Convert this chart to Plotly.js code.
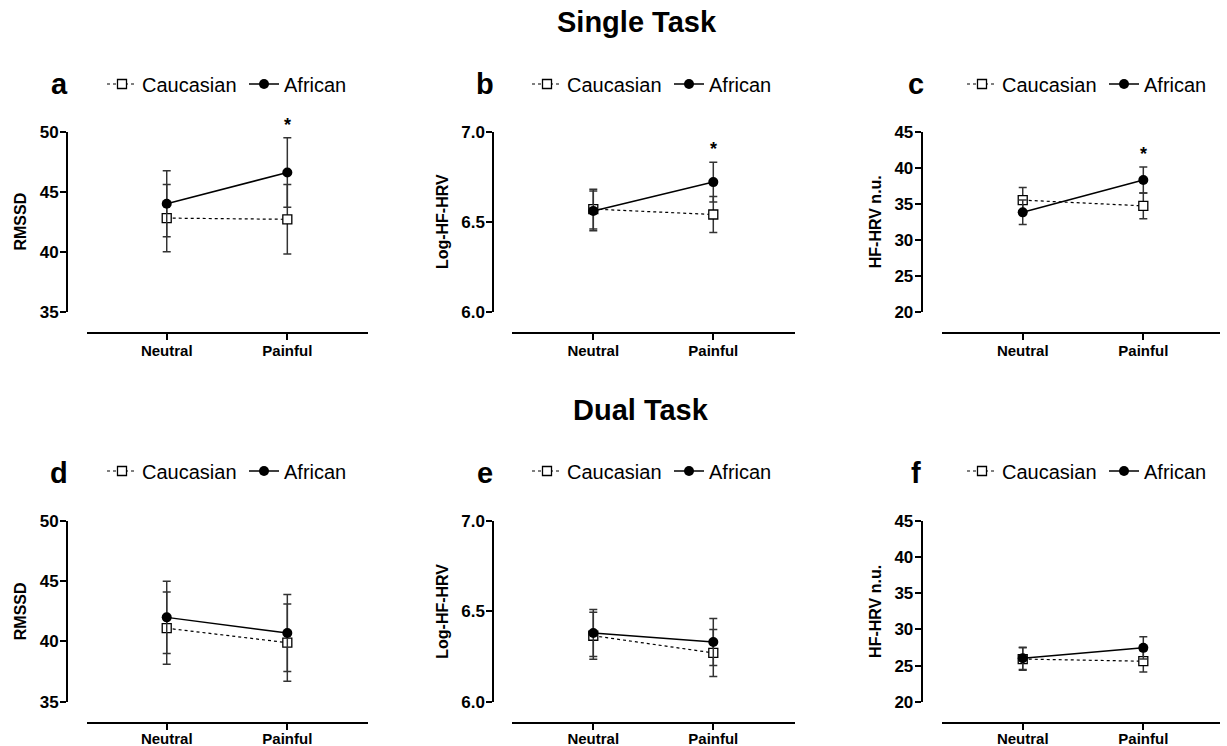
<!DOCTYPE html>
<html>
<head>
<meta charset="utf-8">
<script src="https://cdn.plot.ly/plotly-3.0.1.min.js"></script>
<style>
  html, body { margin: 0; padding: 0; background: #fff; overflow: hidden; }
  #chart { width: 1227px; height: 746px; }
</style>
</head>
<body>
<div id="chart"></div>
<script>
// ---------- data ----------
const categories = ['Neutral', 'Painful'];
const groupNames = ['Caucasian', 'African'];
const panelLetters = ['a', 'b', 'c', 'd', 'e', 'f'];
const rowTitles = ['Single Task', 'Dual Task'];
const yTitles = ['RMSSD', 'Log-HF-HRV', 'HF-HRV n.u.'];

// Single task
const rmssdSingleCauc = [42.8, 42.7];
const rmssdSingleCaucErr = [2.8, 2.9];
const rmssdSingleAfr = [44.0, 46.6];
const rmssdSingleAfrErr = [2.75, 2.9];

const logHfSingleCauc = [6.57, 6.54];
const logHfSingleCaucErr = [0.11, 0.10];
const logHfSingleAfr = [6.56, 6.72];
const logHfSingleAfrErr = [0.11, 0.11];

const nuSingleCauc = [35.5, 34.7];
const nuSingleCaucErr = [1.75, 1.8];
const nuSingleAfr = [33.8, 38.3];
const nuSingleAfrErr = [1.7, 1.8];

// Dual task
const rmssdDualCauc = [41.1, 39.9];
const rmssdDualCaucErr = [3.0, 3.2];
const rmssdDualAfr = [42.0, 40.7];
const rmssdDualAfrErr = [3.0, 3.2];

const logHfDualCauc = [6.365, 6.27];
const logHfDualCaucErr = [0.13, 0.13];
const logHfDualAfr = [6.38, 6.33];
const logHfDualAfrErr = [0.13, 0.13];

const nuDualCauc = [25.9, 25.6];
const nuDualCaucErr = [1.55, 1.5];
const nuDualAfr = [26.0, 27.45];
const nuDualAfrErr = [1.55, 1.55];

// significance marks (star above African, Painful)
const significantPainful = [true, true, true, false, false, false];

// y axis scales per column
const yRanges = [[35, 50], [6.0, 7.0], [20, 45]];
const yTickVals = [[35, 40, 45, 50], [6.0, 6.5, 7.0], [20, 25, 30, 35, 40, 45]];
const yTickFormat = ['d', '.1f', 'd'];

// ---------- layout geometry (pixels) ----------
const W = 1227, H = 746;
const px = v => v / W;
const py = v => (H - v) / H;

const colGeom = [
  { yAxisX: 67,    xStart: 87,    xEnd: 368,  xRange: [-0.661, 1.669], letterX: 59,  legendX: 102 },
  { yAxisX: 493.3, xStart: 511.7, xEnd: 795,  xRange: [-0.68, 1.681],  letterX: 485, legendX: 527 },
  { yAxisX: 921.7, xStart: 941.7, xEnd: 1220, xRange: [-0.672, 1.636], letterX: 916, legendX: 962 }
];
const rowGeom = [
  { yTop: 131.7, yBot: 311.7, xAxisY: 332.7, letterY: 84,  legendY: 84,  titleY: 22,  xLabelShift: -2 },
  { yTop: 521,   yBot: 701.7, xAxisY: 722.7, letterY: 473, legendY: 471, titleY: 410, xLabelShift: -4 }
];

const panelData = [
  [rmssdSingleCauc, rmssdSingleCaucErr, rmssdSingleAfr, rmssdSingleAfrErr],
  [logHfSingleCauc, logHfSingleCaucErr, logHfSingleAfr, logHfSingleAfrErr],
  [nuSingleCauc, nuSingleCaucErr, nuSingleAfr, nuSingleAfrErr],
  [rmssdDualCauc, rmssdDualCaucErr, rmssdDualAfr, rmssdDualAfrErr],
  [logHfDualCauc, logHfDualCaucErr, logHfDualAfr, logHfDualAfrErr],
  [nuDualCauc, nuDualCaucErr, nuDualAfr, nuDualAfrErr]
];

const FONT = 'Liberation Sans, Arial, Helvetica, sans-serif';
const traces = [];
const layout = {
  width: W, height: H,
  margin: { l: 0, r: 0, t: 0, b: 0, autoexpand: false },
  paper_bgcolor: '#fff', plot_bgcolor: 'rgba(0,0,0,0)',
  font: { family: FONT, color: '#000' },
  showlegend: true,
  annotations: [],
  hovermode: false
};

for (let p = 0; p < 6; p++) {
  const row = Math.floor(p / 3), col = p % 3;
  const cg = colGeom[col], rg = rowGeom[row];
  const sfx = p === 0 ? '' : String(p + 1);
  const xa = 'x' + sfx, ya = 'y' + sfx;
  const legId = 'legend' + sfx;
  const [cauc, caucErr, afr, afrErr] = panelData[p];

  traces.push({
    type: 'scatter', mode: 'lines+markers', name: groupNames[0],
    x: categories, y: cauc, xaxis: xa, yaxis: ya, legend: legId,
    line: { color: '#000', width: 1.2, dash: '3px,3px' },
    marker: { symbol: 'square', size: 9, color: '#fff', line: { color: '#000', width: 1.3 } },
    error_y: { type: 'data', array: caucErr, visible: true, color: '#333', thickness: 1.5, width: 4 },
    cliponaxis: false
  });
  traces.push({
    type: 'scatter', mode: 'lines+markers', name: groupNames[1],
    x: categories, y: afr, xaxis: xa, yaxis: ya, legend: legId,
    line: { color: '#000', width: 1.5 },
    marker: { symbol: 'circle', size: 10, color: '#000', line: { color: '#000', width: 0 } },
    error_y: { type: 'data', array: afrErr, visible: true, color: '#333', thickness: 1.5, width: 4 },
    cliponaxis: false
  });

  layout['xaxis' + sfx] = {
    type: 'category', categoryorder: 'array', categoryarray: categories,
    domain: [px(cg.xStart), px(cg.xEnd)], range: cg.xRange,
    anchor: 'free', position: py(rg.xAxisY),
    showline: true, linewidth: 2, linecolor: '#000',
    ticks: 'outside', ticklen: 6, tickwidth: 2, tickcolor: '#000',
    ticklabelstandoff: rg.xLabelShift,
    tickfont: { size: 15, weight: 'bold', family: FONT },
    showgrid: false, zeroline: false, fixedrange: true
  };
  layout['yaxis' + sfx] = {
    domain: [py(rg.yBot), py(rg.yTop)], range: yRanges[col],
    anchor: 'free', position: px(cg.yAxisX),
    tickvals: yTickVals[col], tickformat: yTickFormat[col],
    showline: true, linewidth: 2, linecolor: '#000',
    ticks: 'outside', ticklen: 6, tickwidth: 2, tickcolor: '#000',
    ticklabelstandoff: -2,
    tickfont: { size: 17, weight: 'bold', family: FONT },
    title: { text: yTitles[col], font: { size: 16, weight: 'bold', family: FONT }, standoff: 8 },
    showgrid: false, zeroline: false, fixedrange: true
  };
  layout[legId] = {
    x: px(cg.legendX), y: py(rg.legendY), xanchor: 'left', yanchor: 'middle',
    orientation: 'h', font: { size: 20, family: FONT },
    entrywidth: 97, entrywidthmode: 'pixels',
    bgcolor: 'rgba(0,0,0,0)', borderwidth: 0, traceorder: 'normal'
  };

  layout.annotations.push({
    xref: 'paper', yref: 'paper', x: px(cg.letterX), y: py(rg.letterY),
    xanchor: 'center', yanchor: 'middle', showarrow: false,
    text: panelLetters[p], font: { size: 29, weight: 'bold', family: FONT }
  });

  if (significantPainful[p]) {
    layout.annotations.push({
      xref: xa, yref: ya, x: 1, y: afr[1] + afrErr[1],
      xanchor: 'center', yanchor: 'middle', yshift: 13, showarrow: false,
      text: '*', font: { size: 18, weight: 'bold', family: FONT }
    });
  }
}

// row titles
layout.annotations.push({
  xref: 'paper', yref: 'paper', x: px(637), y: py(rowGeom[0].titleY),
  xanchor: 'center', yanchor: 'middle', showarrow: false,
  text: rowTitles[0], font: { size: 29, weight: 'bold', family: FONT }
});
layout.annotations.push({
  xref: 'paper', yref: 'paper', x: px(641), y: py(rowGeom[1].titleY),
  xanchor: 'center', yanchor: 'middle', showarrow: false,
  text: rowTitles[1], font: { size: 29, weight: 'bold', family: FONT }
});

Plotly.newPlot('chart', traces, layout, { displayModeBar: false, staticPlot: true });
</script>
</body>
</html>
